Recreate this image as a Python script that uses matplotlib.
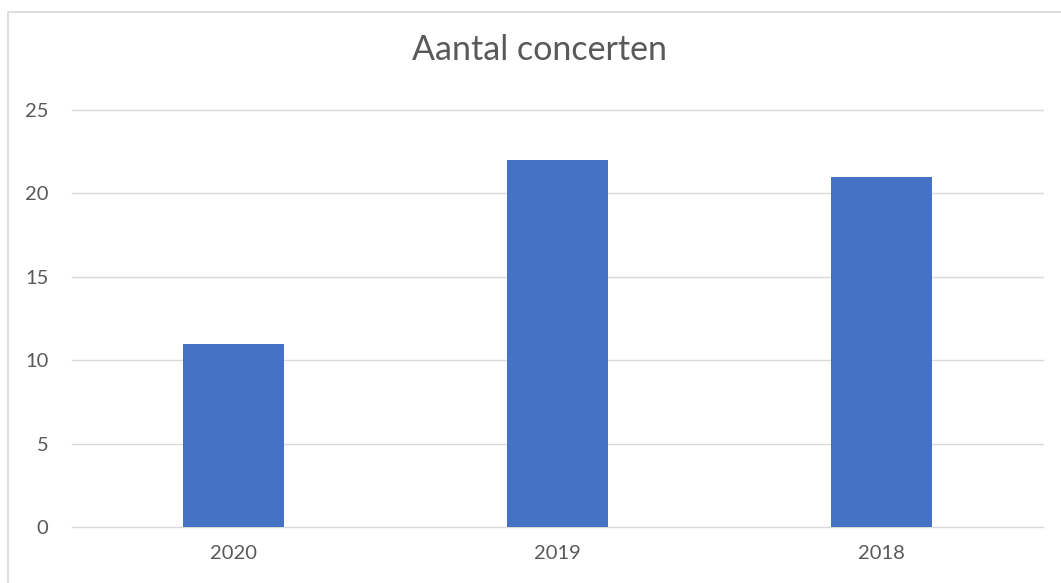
import matplotlib
matplotlib.use("Agg")
import matplotlib.pyplot as plt
from matplotlib.patches import Rectangle

categories = ["2020", "2019", "2018"]
values = [11, 22, 21]
yticks = [0, 5, 10, 15, 20, 25]
title = "Aantal concerten"

TEXT = "#595959"
GRID = "#d9d9d9"
BAR = "#4472c4"

plt.rcParams['font.family'] = ['Lato', 'DejaVu Sans']

fig = plt.figure(figsize=(10.61, 5.83), dpi=100)
ax = fig.add_axes([72/1061, 1-527/583, (1043-72)/1061, (527-110)/583])

x = list(range(len(categories)))
ax.bar(x, values, width=0.312, color=BAR, zorder=3)
ax.set_xlim(-0.5, len(categories)-0.5)
ax.set_ylim(0, 25)
ax.set_yticks(yticks)
ax.set_yticklabels([str(t) for t in yticks])
ax.set_xticks(x)
ax.set_xticklabels(categories)
ax.grid(axis='y', color=GRID, linewidth=1.0, zorder=0)
for gl in ax.get_ygridlines():
    gl.set_clip_on(False)
for s in ax.spines.values():
    s.set_visible(False)
ax.tick_params(axis='both', length=0, labelsize=14.5, colors=TEXT)
ax.tick_params(axis='y', pad=17)
ax.tick_params(axis='x', pad=13)

fig.text(540/1061, 1-60/583, title, ha='center', va='baseline', fontsize=24.5, color=TEXT)

fig.patches.append(Rectangle((7.5/1061, -0.05), 1.2, 1.05 - 11.5/583, transform=fig.transFigure,
                             fill=False, edgecolor=GRID, linewidth=1.2, figure=fig))

fig.savefig("out.png", dpi=100)
